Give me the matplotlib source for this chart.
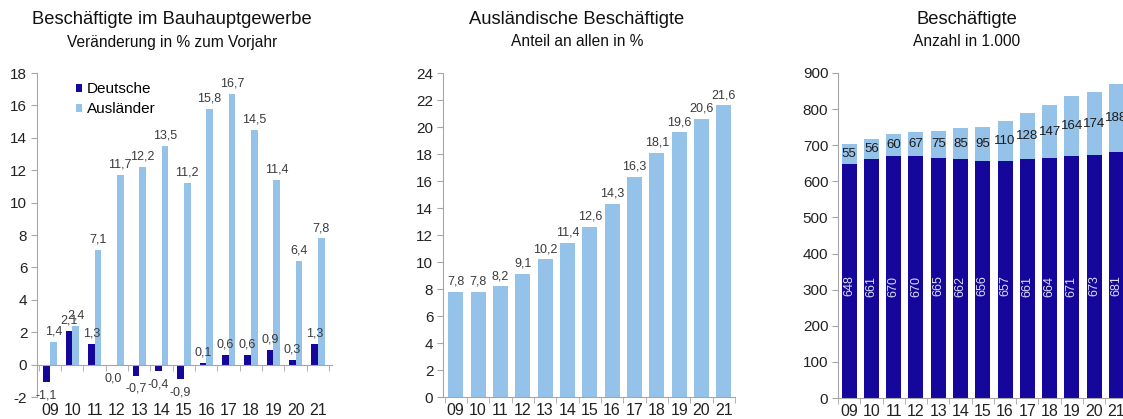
import matplotlib
matplotlib.use("Agg")
import matplotlib.pyplot as plt
import numpy as np

plt.rcParams['font.family'] = ['Liberation Sans', 'DejaVu Sans']

years = ["09", "10", "11", "12", "13", "14", "15", "16", "17", "18", "19", "20", "21"]

# Panel 1: change vs previous year in %
deutsche_chg = [-1.1, 2.1, 1.3, -0.05, -0.7, -0.4, -0.9, 0.1, 0.6, 0.6, 0.9, 0.3, 1.3]
deutsche_lbl = ["-1,1", "2,1", "1,3", "0,0", "-0,7", "-0,4", "-0,9", "0,1", "0,6", "0,6", "0,9", "0,3", "1,3"]
auslaender_chg = [1.4, 2.4, 7.1, 11.7, 12.2, 13.5, 11.2, 15.8, 16.7, 14.5, 11.4, 6.4, 7.8]

# Panel 2: share of foreigners in %
anteil = [7.8, 7.8, 8.2, 9.1, 10.2, 11.4, 12.6, 14.3, 16.3, 18.1, 19.6, 20.6, 21.6]

# Panel 3: employees in thousands
deutsche_n = [648, 661, 670, 670, 665, 662, 656, 657, 661, 664, 671, 673, 681]
auslaender_n = [55, 56, 60, 67, 75, 85, 95, 110, 128, 147, 164, 174, 188]

DARK = "#15079c"
LIGHT = "#95c2e9"
AXC = "#a6a6a6"
TXT = "#3a3a3a"

W, H = 1123, 419
fig = plt.figure(figsize=(W / 100, H / 100), dpi=100)

def fmt(v):
    return f"{v:.1f}".replace(".", ",")

def style(ax, ylim, yticks, xlim):
    ax.set_ylim(*ylim)
    ax.set_xlim(*xlim)
    ax.set_yticks(yticks)
    ax.set_yticklabels([str(t) for t in yticks], fontsize=11, color="#222222")
    for s in ["top", "right"]:
        ax.spines[s].set_visible(False)
    ax.spines["left"].set_color(AXC)
    ax.spines["bottom"].set_color(AXC)
    ax.tick_params(axis="y", direction="out", length=4, color=AXC, pad=3)
    n = len(years)
    x = np.arange(n)
    ax.set_xticks(x)
    ax.set_xticklabels([])
    ax.tick_params(axis="x", which="major", length=0)
    ax.set_xticks(np.arange(-0.5, n, 1.0), minor=True)
    ax.tick_params(axis="x", which="minor", direction="out", length=4, color=AXC)
    for xi, lab in zip(x, years):
        ax.text(xi, -0.018, lab, transform=ax.get_xaxis_transform(), ha="center",
                va="top", fontsize=11.5, color="#222222")

x = np.arange(len(years))

def pos(px_left, px_top, px_right, px_bottom):
    return [px_left / W, 1 - px_bottom / H, (px_right - px_left) / W, (px_bottom - px_top) / H]

# ---- Panel 1
ax1 = fig.add_axes(pos(37, 73, 332, 397))
bw = 0.3
b1 = ax1.bar(x - bw / 2, deutsche_chg, width=bw, color=DARK, label="Deutsche")
b2 = ax1.bar(x + bw / 2, auslaender_chg, width=bw, color=LIGHT, label="Ausländer")
style(ax1, (-2, 18), list(range(-2, 19, 2)), (-0.58, 12.63))
ax1.spines["bottom"].set_position(("data", 0))
for xi, v, lab in zip(x, deutsche_chg, deutsche_lbl):
    if v >= 0:
        ax1.annotate(lab, (xi - bw / 2, v), xytext=(0, 3), textcoords="offset points",
                     ha="center", va="bottom", fontsize=9, color=TXT)
    else:
        ax1.annotate(lab, (xi - bw / 2, v), xytext=(0, -5), textcoords="offset points",
                     ha="center", va="top", fontsize=9, color=TXT)
for xi, v in zip(x, auslaender_chg):
    ax1.annotate(fmt(v), (xi + bw / 2, v), xytext=(0, 3), textcoords="offset points",
                 ha="center", va="bottom", fontsize=9, color=TXT)
ax1.legend(loc="upper left", bbox_to_anchor=(0.11, 0.99), frameon=False, fontsize=11,
           handlelength=0.45, handleheight=0.45, handletextpad=0.3, labelspacing=0.4,
           borderaxespad=0)
fig.text(172 / W, 1 - 20 / H, "Beschäftigte im Bauhauptgewerbe", ha="center", va="center",
         fontsize=13.2, color="#111111")
fig.text(172 / W, 1 - 42 / H, "Veränderung in % zum Vorjahr", ha="center", va="center",
         fontsize=11.2, color="#111111")

# ---- Panel 2
ax2 = fig.add_axes(pos(443, 73, 735, 397))
ax2.bar(x, anteil, width=0.67, color=LIGHT)
style(ax2, (0, 24), list(range(0, 25, 2)), (-0.57, 12.48))
for xi, v in zip(x, anteil):
    ax2.annotate(fmt(v), (xi, v), xytext=(0, 3), textcoords="offset points",
                 ha="center", va="bottom", fontsize=9, color=TXT)
fig.text(577 / W, 1 - 20 / H, "Ausländische Beschäftigte", ha="center", va="center",
         fontsize=13.2, color="#111111")
fig.text(577 / W, 1 - 41 / H, "Anteil an allen in %", ha="center", va="center",
         fontsize=11.2, color="#111111")

# ---- Panel 3
ax3 = fig.add_axes(pos(838, 73, 1132, 398))
ax3.bar(x, deutsche_n, width=0.67, color=DARK)
ax3.bar(x, auslaender_n, width=0.67, bottom=deutsche_n, color=LIGHT)
style(ax3, (0, 900), list(range(0, 901, 100)), (-0.5, 12.7))
for xi, d, a in zip(x, deutsche_n, auslaender_n):
    ax3.text(xi, 310, str(d), rotation=90, ha="center", va="center", fontsize=9,
             color="#dcdcf0")
    ax3.text(xi, d + a / 2, str(a), ha="center", va="center", fontsize=9.5, color="#1a1a1a")
fig.text(967 / W, 1 - 20 / H, "Beschäftigte", ha="center", va="center",
         fontsize=13.2, color="#111111")
fig.text(967 / W, 1 - 41 / H, "Anzahl in 1.000", ha="center", va="center",
         fontsize=11.2, color="#111111")

fig.savefig("out.png", dpi=100)
